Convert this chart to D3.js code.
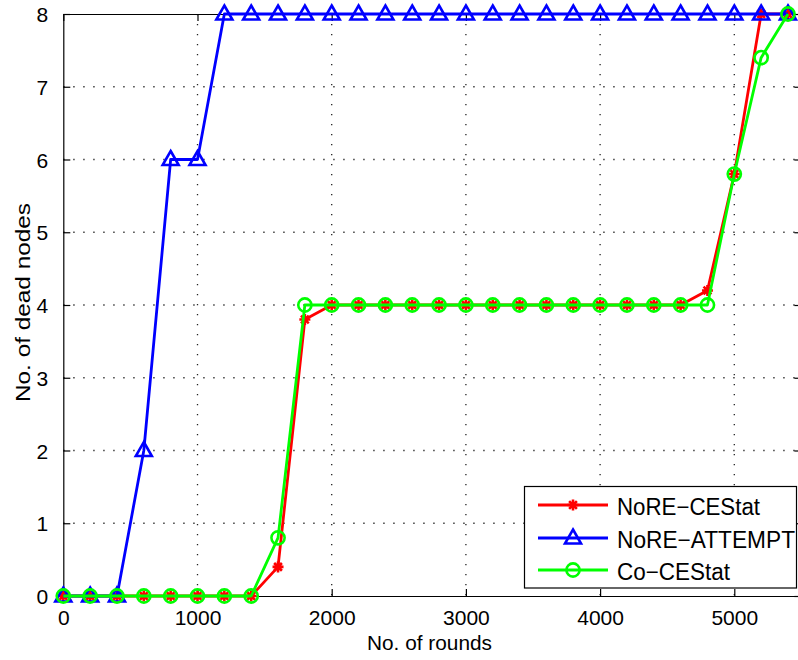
<!DOCTYPE html>
<html><head><meta charset="utf-8">
<script src="https://cdn.jsdelivr.net/npm/d3@7"></script>
<style>body{margin:0;background:#fff}svg{display:block;font-family:"Liberation Sans",Arial,Helvetica,sans-serif}</style>
</head><body><svg id="c" width="798" height="660"></svg>
<script>
const rounds = [0,200,400,600,800,1000,1200,1400,1600,1800,2000,2200,2400,2600,2800,3000,3200,3400,3600,3800,4000,4200,4400,4600,4800,5000,5200,5400];
const noreCEStat = [0,0,0,0,0,0,0,0,0.4,3.8,4,4,4,4,4,4,4,4,4,4,4,4,4,4,4.2,5.8,8,8];
const noreAttempt = [0,0,0,2,6,6,8,8,8,8,8,8,8,8,8,8,8,8,8,8,8,8,8,8,8,8,8,8];
const coCEStat = [0,0,0,0,0,0,0,0,0.8,4,4,4,4,4,4,4,4,4,4,4,4,4,4,4,4,5.8,7.4,8];
const xTicks = [0,1000,2000,3000,4000,5000];
const yTicks = [0,1,2,3,4,5,6,7,8];
const seriesNames = ["NoRE\u2212CEStat","NoRE\u2212ATTEMPT","Co\u2212CEStat"];
const seriesColors = ["#ff0000","#0000ff","#00ff00"];
const xLabel = "No. of rounds", yLabel = "No. of dead nodes";

const svg = d3.select("#c");
const L = 63.3, R = 801.4, T = 14, B = 596;
const x = d3.scaleLinear().domain([0,5500]).range([L,R]);
const y = d3.scaleLinear().domain([0,8]).range([B,T]);

// grid
const g = svg.append("g");
g.selectAll(".vg").data(xTicks.slice(1)).join("line")
  .attr("x1",d=>x(d)).attr("x2",d=>x(d)).attr("y1",T).attr("y2",B)
  .attr("stroke","#222").attr("stroke-width",1.3).attr("stroke-dasharray","1.3,8.7");
g.selectAll(".hg").data(yTicks.slice(1,-1)).join("line")
  .attr("x1",L).attr("x2",R).attr("y1",d=>y(d)).attr("y2",d=>y(d))
  .attr("stroke","#222").attr("stroke-width",1.3).attr("stroke-dasharray","1.3,8.7");

// axes
const fmt = d3.format("d");
const ax = svg.append("g");
const bx = ax.append("g").attr("transform",`translate(0,${B})`).call(d3.axisBottom(x).tickValues(xTicks).tickFormat(fmt).tickSizeInner(-7).tickSizeOuter(0).tickPadding(16));
const tx = ax.append("g").attr("transform",`translate(0,${T})`).call(d3.axisTop(x).tickValues(xTicks).tickSizeInner(-7).tickSizeOuter(0).tickFormat(""));
const ly = ax.append("g").attr("transform",`translate(${L},0)`).call(d3.axisLeft(y).tickValues(yTicks).tickFormat(fmt).tickSizeInner(-7).tickSizeOuter(0).tickPadding(15));
const ry = ax.append("g").attr("transform",`translate(${R},0)`).call(d3.axisRight(y).tickValues(yTicks).tickSizeInner(-7).tickSizeOuter(0).tickFormat(""));
ax.selectAll(".domain").attr("stroke","#000").attr("stroke-width",1.2);
ax.selectAll(".tick line").attr("stroke","#000").attr("stroke-width",1.2);
ax.selectAll("text").attr("font-family","Liberation Sans, Arial, sans-serif").attr("fill","#000").attr("font-size",21);
bx.selectAll("text").attr("dy",null).attr("y",29);
ly.selectAll("text").attr("dy",null).attr("dominant-baseline","central");

// labels
svg.append("text").attr("x",429.5).attr("y",650).attr("text-anchor","middle").attr("font-size",21)
  .attr("textLength",125).attr("lengthAdjust","spacingAndGlyphs").text(xLabel);
svg.append("text").attr("transform","translate(30,302.5) rotate(-90)").attr("text-anchor","middle").attr("font-size",21)
  .attr("textLength",199).attr("lengthAdjust","spacingAndGlyphs").text(yLabel);

// markers
const starPath = (r)=>{let p="";for(let k=0;k<4;k++){const a=k*Math.PI/4;p+=`M${-r*Math.cos(a)},${-r*Math.sin(a)}L${r*Math.cos(a)},${r*Math.sin(a)}`;}return p;};
const triPath = "M0,-8.5L8,5.5L-8,5.5Z";
function marker(sel, i){
  if(i===0) sel.append("path").attr("d",starPath(5.5)).attr("stroke",seriesColors[0]).attr("stroke-width",2.6).attr("fill","none");
  if(i===1) sel.append("path").attr("d",triPath).attr("stroke",seriesColors[1]).attr("stroke-width",2.6).attr("fill","none");
  if(i===2) sel.append("circle").attr("r",6.6).attr("stroke",seriesColors[2]).attr("stroke-width",2.6).attr("fill","none");
}
const allSeries = [noreCEStat, noreAttempt, coCEStat];
const line = d3.line().x((d,i)=>x(rounds[i])).y(d=>y(d));
allSeries.forEach((vals,i)=>{
  const sg = svg.append("g");
  sg.append("path").attr("d",line(vals)).attr("fill","none").attr("stroke",seriesColors[i]).attr("stroke-width",2.8).attr("stroke-linejoin","round");
  vals.forEach((v,j)=>{ const m = sg.append("g").attr("transform",`translate(${x(rounds[j])},${y(v)})`); marker(m,i); });
});

// legend
const lg = svg.append("g");
lg.append("rect").attr("x",524.5).attr("y",486.5).attr("width",272).attr("height",101.5).attr("fill","#fff").attr("stroke","#000").attr("stroke-width",1.2);
const rowsY = [505,538,570], textLens=[143,178,113];
seriesNames.forEach((n,i)=>{
  lg.append("line").attr("x1",538).attr("x2",608).attr("y1",rowsY[i]).attr("y2",rowsY[i]).attr("stroke",seriesColors[i]).attr("stroke-width",2.8);
  const m = lg.append("g").attr("transform",`translate(573,${rowsY[i]})`); marker(m,i);
  lg.append("text").attr("x",617).attr("y",rowsY[i]+9.5).attr("font-size",23).attr("textLength",textLens[i]).attr("lengthAdjust","spacingAndGlyphs").text(n);
});
</script></body></html>
